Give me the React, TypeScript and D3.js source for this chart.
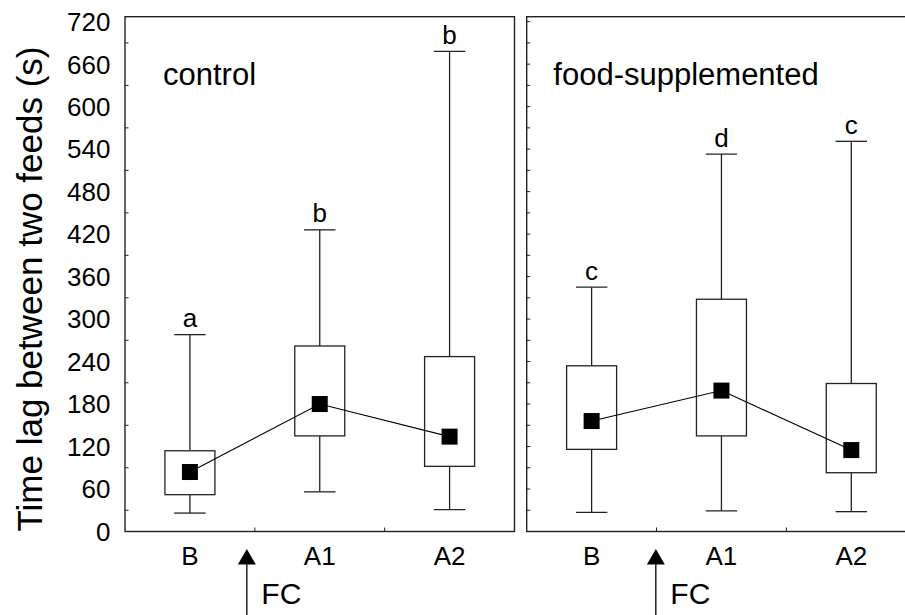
import React from "react";
import * as d3 from "d3";

const categories = ["B", "A1", "A2"];
const panelNames = ["control", "food-supplemented"];

const controlMin = [26, 56, 31];
const controlQ1 = [52, 135, 92];
const controlMedian = [84, 180, 134];
const controlQ3 = [114, 262, 247];
const controlMax = [278, 426, 678];
const controlLetters = ["a", "b", "b"];

const foodMin = [27, 29, 28];
const foodQ1 = [116, 135, 83];
const foodMedian = [156, 199, 115];
const foodQ3 = [234, 328, 209];
const foodMax = [345, 533, 551];
const foodLetters = ["c", "d", "c"];

const yTickValues = d3.range(0, 721, 60);
const minorTickValues = d3.range(0, 721, 30);

const FONT = "'Liberation Sans', Arial, Helvetica, sans-serif";
const STROKE = "#222";

export default function App() {
  const W = 905, H = 615;
  const y = d3.scaleLinear().domain([0, 727]).range([531.5, 16.7]);
  const panelW = 389.5;
  const panelX = [125, 526.7];
  const arrowOffset = [-8, -0.7];
  const yBottom = y(0);
  const yTop = y(727);

  const panels = [
    { name: panelNames[0], min: controlMin, q1: controlQ1, med: controlMedian, q3: controlQ3, max: controlMax, letters: controlLetters, showLabels: true },
    { name: panelNames[1], min: foodMin, q1: foodQ1, med: foodMedian, q3: foodQ3, max: foodMax, letters: foodLetters, showLabels: false },
  ];

  const boxHalf = 25;
  const capHalf = 15.7;
  const sq = 16;

  return (
    <svg width={W} height={H} style={{ position: "absolute", left: 0, top: 0, background: "#fff" }} fontFamily={FONT}>
      <rect x={0} y={0} width={W} height={H} fill="#fff" />
      <text
        transform={`translate(41.7, 289) rotate(-90)`}
        textAnchor="middle"
        fontSize={35}
        fill="#000"
      >
        Time lag between two feeds (s)
      </text>
      {yTickValues.map((v) => (
        <text key={v} x={110.5} y={y(v)} dy="0.36em" textAnchor="end" fontSize={26} fill="#000">
          {v}
        </text>
      ))}
      {panels.map((p, pi) => {
        const x0 = panelX[pi];
        const x = d3.scaleBand().domain(categories).range([x0, x0 + panelW]);
        const cx = (c: string) => (x(c) as number) + x.bandwidth() / 2;
        const line = d3
          .line<number>()
          .x((_, i) => cx(categories[i]))
          .y((d) => y(d));
        const minors = p.showLabels ? minorTickValues.filter((v) => v % 60 !== 0) : minorTickValues;
        const boundaries = categories.slice(1).map((c) => x(c) as number);
        const arrowX = boundaries[0] + arrowOffset[pi];
        return (
          <g key={p.name}>
            <rect x={x0} y={yTop} width={panelW} height={yBottom - yTop} fill="none" stroke={STROKE} strokeWidth={1.4} />
            {minors.map((v) => (
              <line key={v} x1={x0} x2={x0 + 3.5} y1={y(v)} y2={y(v)} stroke={STROKE} strokeWidth={1} />
            ))}
            {boundaries.map((bx, i) => (
              <line key={i} x1={bx} x2={bx} y1={yBottom} y2={yBottom - 4} stroke={STROKE} strokeWidth={1} />
            ))}
            <text x={x0 + (pi === 0 ? 38 : 26.6)} y={85} fontSize={31} fill="#000">
              {p.name}
            </text>
            {categories.map((c, i) => {
              const xc = cx(c);
              return (
                <g key={c}>
                  <line x1={xc} x2={xc} y1={y(p.max[i])} y2={y(p.q3[i])} stroke={STROKE} strokeWidth={1.3} />
                  <line x1={xc} x2={xc} y1={y(p.q1[i])} y2={y(p.min[i])} stroke={STROKE} strokeWidth={1.3} />
                  <line x1={xc - capHalf} x2={xc + capHalf} y1={y(p.max[i])} y2={y(p.max[i])} stroke={STROKE} strokeWidth={1.3} />
                  <line x1={xc - capHalf} x2={xc + capHalf} y1={y(p.min[i])} y2={y(p.min[i])} stroke={STROKE} strokeWidth={1.3} />
                  <rect
                    x={xc - boxHalf}
                    y={y(p.q3[i])}
                    width={boxHalf * 2}
                    height={y(p.q1[i]) - y(p.q3[i])}
                    fill="#fff"
                    stroke={STROKE}
                    strokeWidth={1.3}
                  />
                  <text x={xc} y={y(p.max[i]) - 7.5} textAnchor="middle" fontSize={26} fill="#000">
                    {p.letters[i]}
                  </text>
                  <text x={xc} y={565} textAnchor="middle" fontSize={26} fill="#000">
                    {c}
                  </text>
                </g>
              );
            })}
            <path d={line(p.med) || ""} fill="none" stroke="#000" strokeWidth={1.1} />
            {categories.map((c, i) => (
              <rect key={c} x={cx(c) - sq / 2} y={y(p.med[i]) - sq / 2} width={sq} height={sq} fill="#000" />
            ))}
            <path d={`M${arrowX},549 L${arrowX + 9},564.5 L${arrowX - 9},564.5 Z`} fill="#000" />
            <line x1={arrowX} x2={arrowX} y1={563} y2={615} stroke="#000" strokeWidth={1.3} />
            <text x={arrowX + 14.5} y={604} fontSize={30} fill="#000">
              FC
            </text>
          </g>
        );
      })}
    </svg>
  );
}
